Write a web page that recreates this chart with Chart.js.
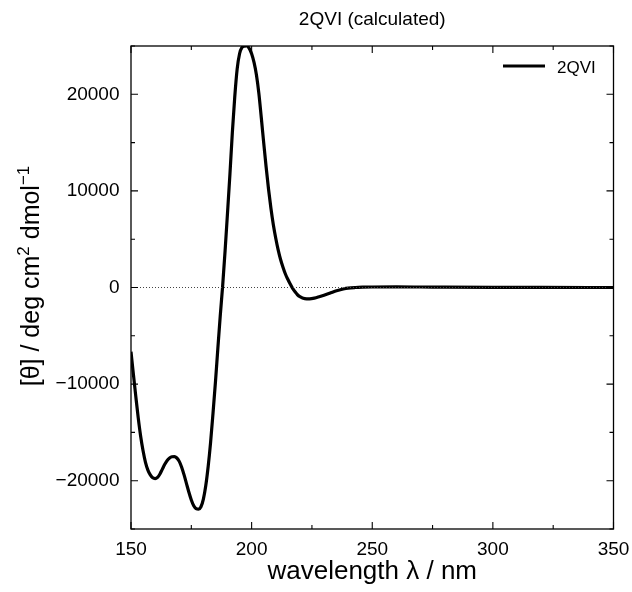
<!DOCTYPE html>
<html>
<head>
<meta charset="utf-8">
<script src="https://cdn.jsdelivr.net/npm/chart.js@4/dist/chart.umd.min.js"></script>
<style>
html,body{margin:0;padding:0;background:#fff;}
#wrap{width:632px;height:592px;}
</style>
</head>
<body>
<div id="wrap"><canvas id="c" width="632" height="592"></canvas></div>
<script>
// ---- data ----
const wavelength = [150,151,152,153,154,155,156,157,158,159,160,161,162,163,164,165,166,167,168,169,170,171,172,173,174,175,176,177,178,179,180,181,182,183,184,185,186,187,188,189,190,191,192,193,194,195,196,197,198,199,200,201,202,203,204,205,206,207,208,209,210,211,212,213,214,215,216,217,218,219,220,222,224,226,228,230,232,234,236,238,240,243,246,250,260,270,280,300,320,350];
const theta2QVI = [-6650,-9000,-11300,-13500,-15400,-16900,-18100,-18900,-19400,-19700,-19780,-19650,-19300,-18800,-18300,-17900,-17650,-17520,-17500,-17650,-18000,-18600,-19400,-20300,-21200,-22000,-22600,-22900,-22950,-22700,-21900,-20500,-18500,-16000,-13000,-9800,-6300,-2900,200,3800,7700,11700,16000,19700,22600,24200,24850,24990,25000,24750,24200,23300,22000,20100,17600,15000,12500,10200,8200,6500,5100,3900,2900,2100,1400,850,350,-100,-450,-750,-950,-1150,-1170,-1100,-960,-800,-620,-430,-280,-150,-60,0,30,50,60,50,35,15,5,0];
const seriesLabel = "2QVI";
const xTickValues = [150,200,250,300,350];
const yTickValues = [-20000,-10000,0,10000,20000];
const xRange = [150,350];
const yRange = [-25000,25000];
const chartTitle = "2QVI (calculated)";
const xTitle = "wavelength λ / nm";

const FONT = "'Liberation Sans', Arial, Helvetica, sans-serif";

const points = wavelength.map((x,i)=>({x:x, y:theta2QVI[i]}));
const zeroLine = [{x:xRange[0], y:0},{x:xRange[1], y:0}];

function fmt(v){ return v<0 ? '\u2212'+Math.abs(v) : String(v); }

const decor = {
  id:'decor',
  afterDatasetsDraw(chart){
    const ctx = chart.ctx, a = chart.chartArea;
    const xs = chart.scales.x, ys = chart.scales.y;
    ctx.save();
    // frame
    ctx.strokeStyle = '#000';
    ctx.lineWidth = 1.3;
    ctx.strokeRect(a.left, a.top, a.right-a.left, a.bottom-a.top);
    // ticks (inward, mirrored)
    ctx.lineWidth = 1.1;
    ctx.beginPath();
    for(let v=xRange[0]; v<=xRange[1]; v+=25){
      const p = xs.getPixelForValue(v);
      const L = (v%50===0)?7:4;
      ctx.moveTo(p,a.bottom); ctx.lineTo(p,a.bottom-L);
      ctx.moveTo(p,a.top); ctx.lineTo(p,a.top+L);
    }
    for(let v=yRange[0]; v<=yRange[1]; v+=5000){
      const p = ys.getPixelForValue(v);
      const L = (v%10000===0)?7:4;
      ctx.moveTo(a.left,p); ctx.lineTo(a.left+L,p);
      ctx.moveTo(a.right,p); ctx.lineTo(a.right-L,p);
    }
    ctx.stroke();

    // legend
    ctx.strokeStyle = '#000';
    ctx.lineWidth = 3;
    ctx.beginPath();
    ctx.moveTo(503,66); ctx.lineTo(545,66);
    ctx.stroke();
    ctx.fillStyle = '#000';
    ctx.font = '17px ' + FONT;
    ctx.textAlign = 'left';
    ctx.textBaseline = 'alphabetic';
    ctx.fillText(seriesLabel, 557, 73);

    // title
    ctx.font = '19px ' + FONT;
    ctx.textAlign = 'center';
    ctx.fillText(chartTitle, (a.left+a.right)/2, 25);

    // x title
    ctx.font = '26px ' + FONT;
    ctx.fillText(xTitle, (a.left+a.right)/2, 579);

    // y title with superscripts
    const parts = [
      {t:'[\u03B8] / deg cm', s:25, dy:0},
      {t:'2', s:17, dy:-10},
      {t:' dmol', s:25, dy:0},
      {t:'\u22121', s:17, dy:-10}
    ];
    let total = 0;
    parts.forEach(p=>{ ctx.font = p.s+'px '+FONT; p.w = ctx.measureText(p.t).width; total += p.w; });
    ctx.translate(39, 276);
    ctx.rotate(-Math.PI/2);
    ctx.textAlign = 'left';
    let x0 = -total/2;
    parts.forEach(p=>{ ctx.font = p.s+'px '+FONT; ctx.fillText(p.t, x0, p.dy); x0 += p.w; });
    ctx.restore();
  }
};

new Chart(document.getElementById('c'), {
  type:'line',
  data:{
    datasets:[
      {label:'zero', data:zeroLine, borderColor:'#444', borderWidth:1, borderDash:[1,2], pointRadius:0, tension:0},
      {label:seriesLabel, data:points, borderColor:'#000', borderWidth:3.2, pointRadius:0, cubicInterpolationMode:'monotone', fill:false}
    ]
  },
  options:{
    responsive:false,
    animation:false,
    devicePixelRatio:1,
    layout:{padding:{left:0, top:46, right:18.5, bottom:0}},
    plugins:{legend:{display:false}, tooltip:{enabled:false}, title:{display:false}},
    scales:{
      x:{
        type:'linear', min:xRange[0], max:xRange[1],
        afterBuildTicks(s){ s.ticks = xTickValues.map(v=>({value:v})); },
        afterFit(s){ s.height = 63; s.paddingLeft = 0; s.paddingRight = 0; },
        grid:{display:false, drawTicks:false},
        border:{display:false},
        ticks:{color:'#000', font:{family:FONT, size:19}, padding:9, maxRotation:0, callback:(v)=>fmt(v)}
      },
      y:{
        type:'linear', min:yRange[0], max:yRange[1],
        afterBuildTicks(s){ s.ticks = yTickValues.map(v=>({value:v})); },
        afterFit(s){ s.width = 131; s.paddingTop = 0; s.paddingBottom = 0; },
        grid:{display:false, drawTicks:false},
        border:{display:false},
        ticks:{color:'#000', font:{family:FONT, size:19}, padding:11.5, callback:(v)=>fmt(v)}
      }
    }
  },
  plugins:[decor]
});
</script>
</body>
</html>
